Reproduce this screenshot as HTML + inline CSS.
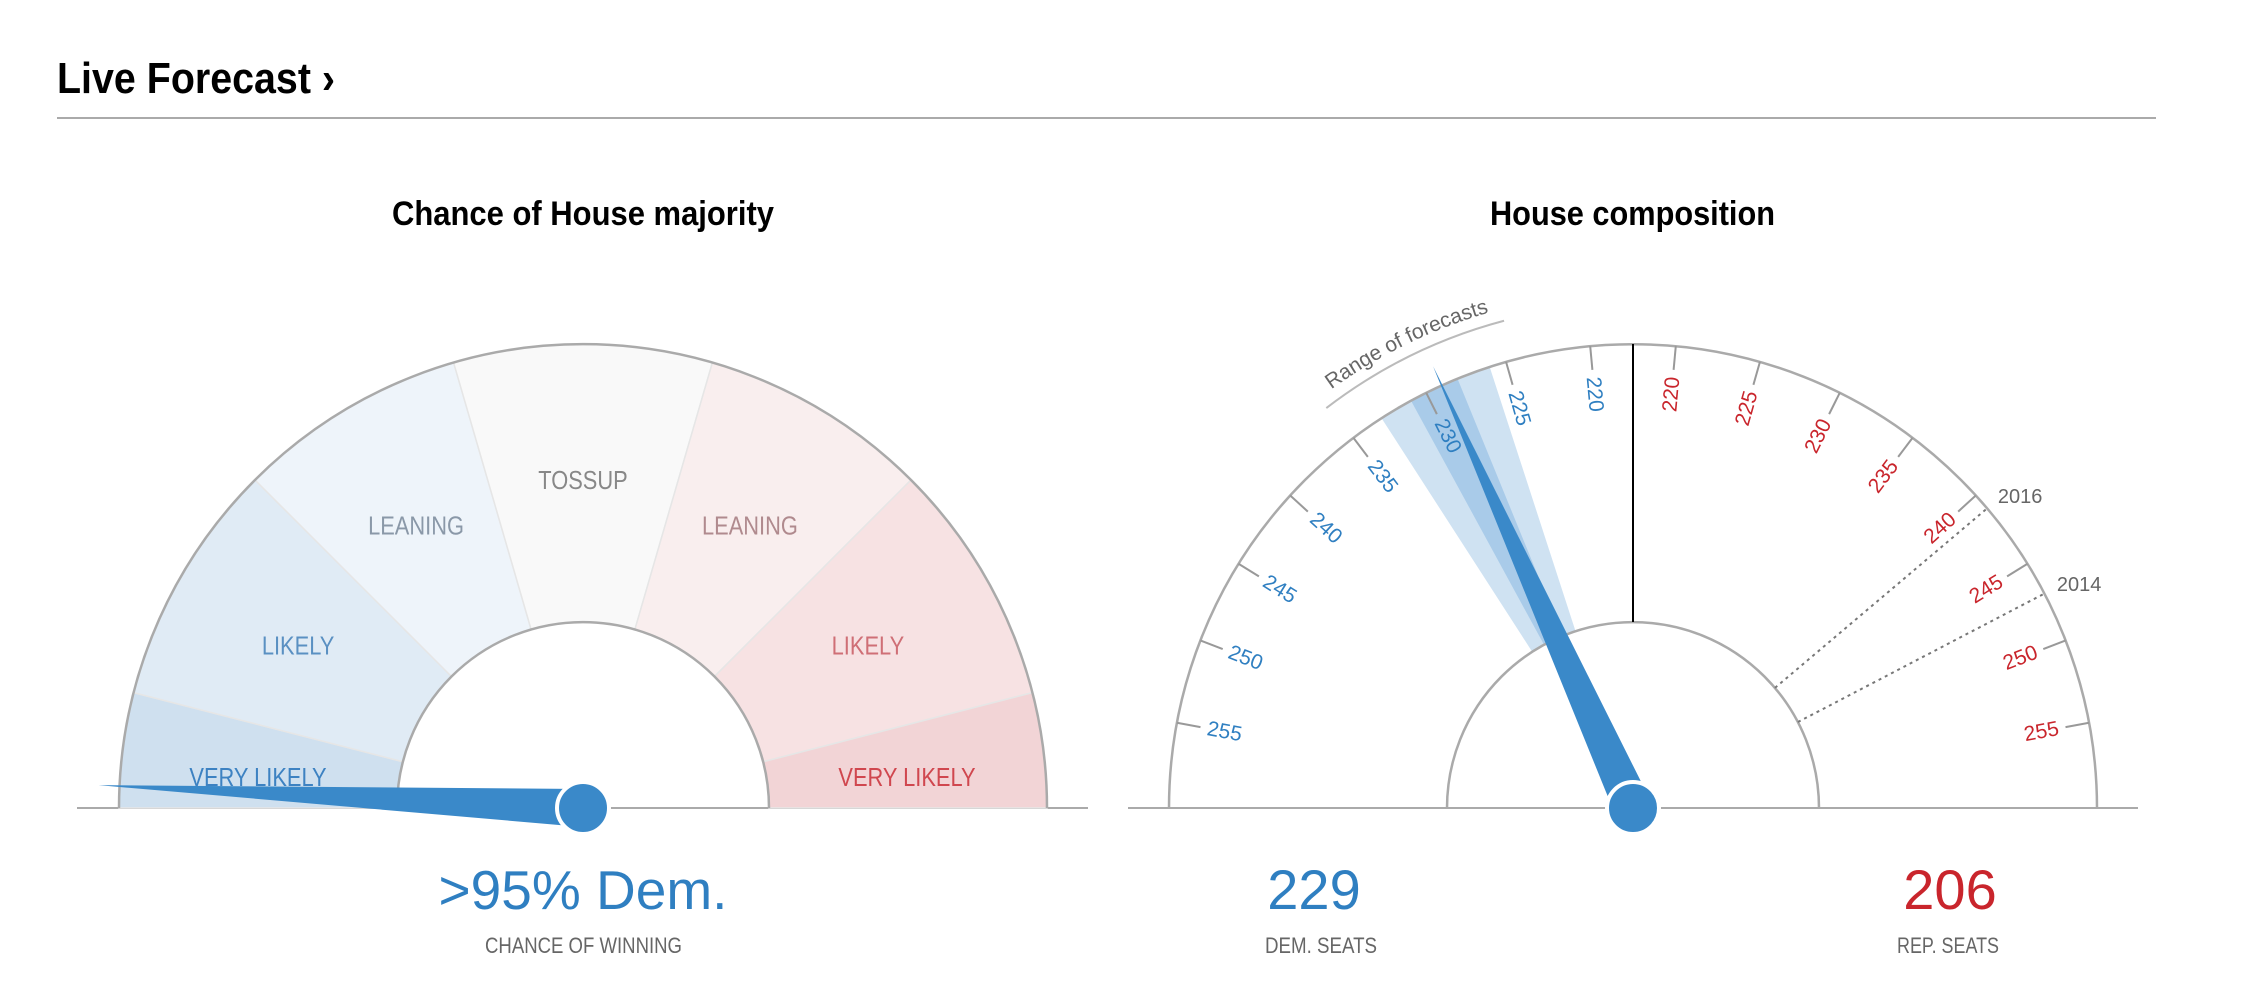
<!DOCTYPE html>
<html><head><meta charset="utf-8"><style>
html,body{margin:0;padding:0;background:#fff;}
body{width:2248px;height:1004px;overflow:hidden;}
svg{display:block;}
.narrow{font-family:"Liberation Sans",sans-serif;}
</style></head><body>
<svg id="svg" width="2248" height="1004" viewBox="0 0 2248 1004" xmlns="http://www.w3.org/2000/svg">
  <text x="57" y="93" class="narrow" font-size="44" font-weight="bold" fill="#000" textLength="278" lengthAdjust="spacingAndGlyphs">Live Forecast ›</text>
  <line x1="57" y1="118" x2="2156" y2="118" stroke="#aaa" stroke-width="2"/>
  <text x="392" y="225" class="narrow" font-size="34" font-weight="bold" fill="#000" textLength="382" lengthAdjust="spacingAndGlyphs">Chance of House majority</text>
  <text x="1490" y="225" class="narrow" font-size="34" font-weight="bold" fill="#000" textLength="285" lengthAdjust="spacingAndGlyphs">House composition</text>
  <g id="left"></g>
  <g id="right"></g>
  <text x="583" y="909" text-anchor="middle" font-family="Liberation Sans,sans-serif" font-size="55" fill="#2f7fc1">&gt;95% Dem.</text>
  <text x="485" y="953" class="narrow" font-size="22" fill="#666" textLength="197" lengthAdjust="spacingAndGlyphs">CHANCE OF WINNING</text>
  <text x="1314" y="909" text-anchor="middle" font-family="Liberation Sans,sans-serif" font-size="56" fill="#2f7fc1">229</text>
  <text x="1265" y="953" class="narrow" font-size="22" fill="#666" textLength="112" lengthAdjust="spacingAndGlyphs">DEM. SEATS</text>
  <text x="1950" y="909" text-anchor="middle" font-family="Liberation Sans,sans-serif" font-size="56" fill="#c9252c">206</text>
  <text x="1897" y="953" class="narrow" font-size="22" fill="#666" textLength="102" lengthAdjust="spacingAndGlyphs">REP. SEATS</text>
</svg>
<script>
// ---- Left gauge data ----
const demProbability = 0.985;
const zoneBounds = [1.0, 0.92, 0.75, 0.59, 0.41, 0.25, 0.08, 0.0];
const zoneLabels = ["VERY LIKELY","LIKELY","LEANING","TOSSUP","LEANING","LIKELY","VERY LIKELY"];
const zoneFills = ["#cfe0ef","#e0ebf5","#eef4fa","#f9f9f9","#f9eeee","#f7e2e3","#f2d4d6"];
const zoneText = ["#3d82c2","#5a90c2","#8a98a8","#888","#b08a8e","#cf6f76","#d0474f"];
// ---- Right gauge data ----
const demSeats = 229;
const repSeats = 206;
const rangeOuter = [226, 233];
const rangeInner = [228, 231];
const tickSeats = [220,225,230,235,240,245,250,255];
const historyYears = ["2016","2014"];
const historySeats = [241, 247];

const NS = "http://www.w3.org/2000/svg";
function mk(tag, attrs, parent){const e=document.createElementNS(NS,tag);for(const k in attrs)e.setAttribute(k,attrs[k]);parent.appendChild(e);return e;}
const R=464, r=186, TIP=485, HW=19, BLUE="#3a89c9";

// Left gauge
const L=document.getElementById('left');
const lcx=583, lcy=808;
function pAngle(p){return (1-p)*Math.PI;}
function lpt(p,rad){const a=pAngle(p);return [lcx-rad*Math.cos(a), lcy-rad*Math.sin(a)];}
mk('line',{x1:77,y1:lcy,x2:1088,y2:lcy,stroke:'#aaa','stroke-width':2,},L);
for(let i=0;i<zoneLabels.length;i++){
  const p0=zoneBounds[i], p1=zoneBounds[i+1];
  const a=lpt(p0,R), b=lpt(p1,R), c=lpt(p1,r), d=lpt(p0,r);
  const seg=mk('path',{d:`M${a} A${R},${R} 0 0 1 ${b} L${c} A${r},${r} 0 0 0 ${d} Z`,fill:zoneFills[i],stroke:'#e6e6e6','stroke-width':1.5},L);
  
  
}
mk('path',{d:`M${lpt(1,R)} A${R},${R} 0 0 1 ${lpt(0,R)}`,fill:'none',stroke:'#aaa','stroke-width':2.5,},L);
mk('path',{d:`M${lpt(1,r)} A${r},${r} 0 0 1 ${lpt(0,r)}`,fill:'none',stroke:'#aaa','stroke-width':2.5,},L);
const labelTexts=[];
for(let i=0;i<zoneLabels.length;i++){
  const pm=(zoneBounds[i]+zoneBounds[i+1])/2;
  let pt=lpt(pm,328);
  if(i===0||i===6){pt=[i===0?258:907,777];}
  const t=mk('text',{x:pt[0],y:pt[1]+9,'text-anchor':'middle','class':'narrow','font-size':26,fill:zoneText[i]},L);
  t.textContent=zoneLabels[i];
  
  
  labelTexts.push(t);
}
labelTexts.forEach(t=>{const w=t.getComputedTextLength();t.setAttribute('textLength',(w*0.84).toFixed(1));t.setAttribute('lengthAdjust','spacingAndGlyphs');});
function needle(g,cx,cy,ang,name){
  const ux=Math.cos(ang), uy=Math.sin(ang);
  const tip=[cx+TIP*ux, cy+TIP*uy];
  const b1=[cx-HW*uy, cy+HW*ux], b2=[cx+HW*uy, cy-HW*ux];
  const n=mk('polygon',{points:`${tip} ${b1} ${b2}`,fill:BLUE},g);
  
  
  const k=mk('circle',{cx:cx,cy:cy,r:26,fill:BLUE,stroke:'#fff','stroke-width':4},g);
  
  
}
{const a=pAngle(demProbability); needle(L,lcx,lcy,Math.PI+a,'majority-needle');}

// Right gauge
const G=document.getElementById('right');
const rcx=1633, rcy=808;
function th(s){return (s-217.5)*Math.PI/2/42.5;}
function dpt(s,rad){const t=th(s);return [rcx-rad*Math.sin(t), rcy-rad*Math.cos(t)];}
function rpt(s,rad){const t=th(s);return [rcx+rad*Math.sin(t), rcy-rad*Math.cos(t)];}
mk('line',{x1:1128,y1:rcy,x2:2138,y2:rcy,stroke:'#aaa','stroke-width':2,},G);
function band(lo,hi,fill,name){
  const a=dpt(hi,R), b=dpt(lo,R), c=dpt(lo,r), d=dpt(hi,r);
  const p=mk('path',{d:`M${a} A${R},${R} 0 0 1 ${b} L${c} A${r},${r} 0 0 0 ${d} Z`,fill:fill},G);
  
  
}
band(rangeOuter[0],rangeOuter[1],'#cfe2f2','forecast-range-band');
band(rangeInner[0],rangeInner[1],'#a9cbe9','forecast-core-band');
mk('path',{d:`M${rcx-R},${rcy} A${R},${R} 0 0 1 ${rcx+R},${rcy}`,fill:'none',stroke:'#aaa','stroke-width':2.5,},G);
mk('path',{d:`M${rcx-r},${rcy} A${r},${r} 0 0 1 ${rcx+r},${rcy}`,fill:'none',stroke:'#aaa','stroke-width':2.5,},G);
mk('line',{x1:rcx,y1:rcy-R,x2:rcx,y2:rcy-r,stroke:'#000','stroke-width':2,},G);
tickSeats.forEach(s=>{
  const t=th(s);
  [[dpt,'#2f7fc1','dem',90-t*180/Math.PI,'start'],[rpt,'#c9252c','rep',t*180/Math.PI-90,'end']].forEach(([f,col,side,rot,anch])=>{
    const a=f(s,R), b=f(s,R-24);
    const l=mk('line',{x1:a[0],y1:a[1],x2:b[0],y2:b[1],stroke:'#999','stroke-width':2},G);
    
    
    const p=f(s,R-31);
    const tx=mk('text',{x:0,y:0,transform:`translate(${p[0]},${p[1]}) rotate(${rot})`,'text-anchor':anch,'dominant-baseline':'central','font-family':'Liberation Sans,sans-serif','font-size':21,fill:col},G);
    tx.textContent=String(s);
    
    
  });
});
historySeats.forEach((s,i)=>{
  const a=rpt(s,r), b=rpt(s,R);
  const l=mk('line',{x1:a[0],y1:a[1],x2:b[0],y2:b[1],stroke:'#777','stroke-width':2,'stroke-dasharray':'3,4'},G);
  
  
  const p=rpt(s,R+14);
  const t=mk('text',{x:p[0],y:p[1]+4,'font-family':'Liberation Sans,sans-serif','font-size':20,fill:'#666'},G);
  t.textContent=historyYears[i];
  
  
});
{
  const a1=dpt(rangeOuter[1]+2.2,504), a2=dpt(rangeOuter[0]-1.5,504);
  mk('path',{d:`M${a1} A504,504 0 0 1 ${a2}`,fill:'none',stroke:'#bbb','stroke-width':2,},G);
  const t1=dpt(234.4,516), t2=dpt(223,516);
  mk('path',{id:'rangePath',d:`M${t1} A516,516 0 0 1 ${t2}`,fill:'none'},G);
  const t=mk('text',{'font-family':'Liberation Sans,sans-serif','font-size':21,fill:'#666',},G);
  const tp=mk('textPath',{href:'#rangePath'},t);
  tp.textContent='Range of forecasts';
}
{const t=th(demSeats); needle(G,rcx,rcy,-Math.PI/2-t,'seats-needle');}
</script>
</body></html>
